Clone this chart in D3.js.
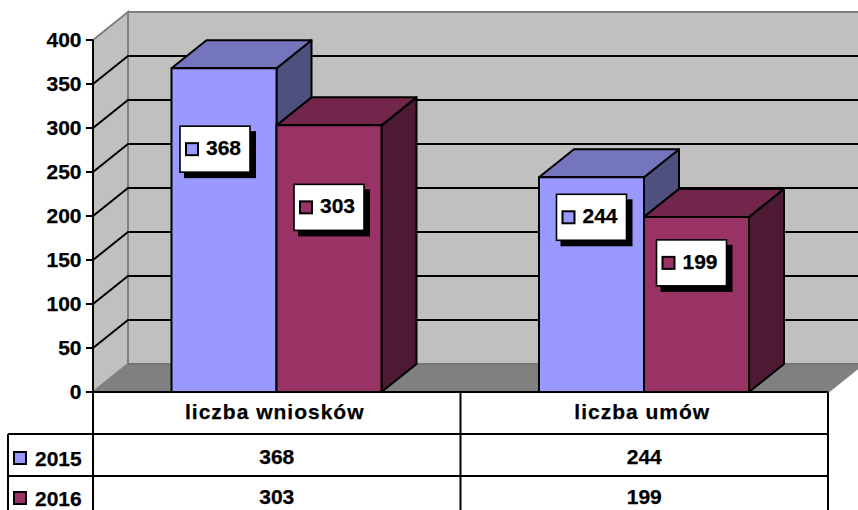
<!DOCTYPE html>
<html><head><meta charset="utf-8">
<script src="https://cdn.jsdelivr.net/npm/d3@7"></script>
<style>html,body{margin:0;padding:0;background:#fff}svg{display:block}text{font-family:"Liberation Sans",Arial,sans-serif;font-weight:700;fill:#000;stroke:#000;stroke-width:.25px}</style>
</head><body><script>
const categories = ["liczba wniosków", "liczba umów"];
const seriesNames = ["2015", "2016"];
const values2015 = [368, 244];
const values2016 = [303, 199];
const yTicks = [0, 50, 100, 150, 200, 250, 300, 350, 400];
const colors = {"2015": ["#9999ff", "#7575bd", "#4f4f80"], "2016": ["#993366", "#73264c", "#4d1a33"]};
const labelOffsets = [[[-9, 81], [0, 82]], [[0, 40], [-5, 46]]];

const W = 858, H = 510, dx = 35, dy = -28;
const x = d3.scaleBand().domain(categories).range([93, 828]);
const xs = d3.scaleBand().domain(seriesNames).range([0, 367]).paddingInner(0).paddingOuter(0.7476);
const y = d3.scaleLinear().domain([0, 400]).range([392, 40]);
const svg = d3.select("body").append("svg").attr("width", W).attr("height", H);
const seriesValues = [values2015, values2016];
const fmt = p => p.map(q => q.join(",")).join(" ");
const SW = 2;

// walls
const xL = x.range()[0], xR = x.range()[1];
svg.append("polygon").attr("points", fmt([[xL + dx, y(400) + dy], [W + 10, y(400) + dy], [W + 10, y(0) + dy], [xL + dx, y(0) + dy]])).attr("fill", "#c0c0c0").attr("stroke", "#808080").attr("stroke-width", 2);
svg.append("polygon").attr("points", fmt([[xL, y(400)], [xL + dx, y(400) + dy], [xL + dx, y(0) + dy], [xL, y(0)]])).attr("fill", "#c0c0c0").attr("stroke", "#808080").attr("stroke-width", 2);
svg.append("polygon").attr("points", fmt([[xL, y(0)], [xL + dx, y(0) + dy], [xR + dx, y(0) + dy], [xR, y(0)]])).attr("fill", "#808080");
svg.append("line").attr("x1", xL + dx).attr("y1", y(0) + dy).attr("x2", W).attr("y2", y(0) + dy).attr("stroke", "#707070").attr("stroke-width", 1.5);
svg.append("line").attr("x1", xR).attr("y1", y(0)).attr("x2", xR + dx).attr("y2", y(0) + dy).attr("stroke", "#808080").attr("stroke-width", 2);

// gridlines
yTicks.filter(t => t > 0 && t < 400).forEach(t => {
  svg.append("polyline").attr("points", fmt([[xL, y(t)], [xL + dx, y(t) + dy], [W + 10, y(t) + dy]])).attr("fill", "none").attr("stroke", "#000").attr("stroke-width", SW);
});

// bars
function poly(pts, fill) {
  svg.append("polygon").attr("points", fmt(pts)).attr("fill", fill).attr("stroke", "#000").attr("stroke-width", SW).attr("stroke-linejoin", "round");
}
categories.forEach((c, ci) => {
  seriesNames.forEach((s, si) => {
    const v = seriesValues[si][ci];
    const l = x(c) + xs(s), r = l + xs.bandwidth(), t = y(v), b = y(0);
    const col = colors[s];
    poly([[r, b], [r + dx, b + dy], [r + dx, t + dy], [r, t]], col[2]);
    poly([[l, t], [l + dx, t + dy], [r + dx, t + dy], [r, t]], col[1]);
    poly([[l, t], [r, t], [r, b], [l, b]], col[0]);
  });
});

// data labels
categories.forEach((c, ci) => {
  seriesNames.forEach((s, si) => {
    const v = seriesValues[si][ci];
    const cx = x(c) + xs(s) + xs.bandwidth() / 2 + labelOffsets[ci][si][0];
    const cy = y(v) + labelOffsets[ci][si][1];
    const g = svg.append("g").attr("transform", `translate(${cx},${cy})`);
    g.append("rect").attr("x", -31).attr("y", -18).attr("width", 72).attr("height", 47).attr("fill", "#000");
    g.append("rect").attr("x", -35).attr("y", -23).attr("width", 70).attr("height", 46).attr("fill", "#fff").attr("stroke", "#000").attr("stroke-width", 1.6);
    g.append("rect").attr("x", -29).attr("y", -6).attr("width", 12).attr("height", 12).attr("fill", colors[s][0]).attr("stroke", "#000").attr("stroke-width", SW);
    g.append("text").attr("x", -9).attr("y", 6).attr("font-size", 21).text(v);
  });
});

// value axis
const axis = svg.append("g");
axis.append("line").attr("x1", xL).attr("x2", xL).attr("y1", y(400)).attr("y2", 510).attr("stroke", "#000").attr("stroke-width", SW);
yTicks.forEach(t => {
  axis.append("line").attr("x1", xL - 7).attr("x2", xL).attr("y1", y(t)).attr("y2", y(t)).attr("stroke", "#000").attr("stroke-width", SW);
  axis.append("text").attr("x", 81.5).attr("y", y(t) + 7).attr("text-anchor", "end").attr("font-size", 21).text(t);
});

// data table
const rowLines = [392, 434, 476];
const rowBaselines = [464, 504];
const rowLegendTop = [452, 492];
const rowLegendBase = [466, 506];
const line = (a, b, c, e) => svg.append("line").attr("x1", a).attr("y1", b).attr("x2", c).attr("y2", e).attr("stroke", "#000").attr("stroke-width", SW);
line(xL, rowLines[0], xR, rowLines[0]);
line(8, rowLines[1], xR, rowLines[1]);
line(8, rowLines[2], xR, rowLines[2]);
line(8, rowLines[1], 8, 510);
line(x(categories[1]), rowLines[0], x(categories[1]), 510);
line(xR, rowLines[0], xR, 510);
categories.forEach(c => {
  svg.append("text").attr("x", x(c) + x.bandwidth() / 2 - 2).attr("y", 419).attr("text-anchor", "middle").attr("font-size", 21).attr("letter-spacing", 1).text(c);
});
seriesNames.forEach((s, si) => {
  svg.append("rect").attr("x", 14).attr("y", rowLegendTop[si]).attr("width", 12).attr("height", 12).attr("fill", colors[s][0]).attr("stroke", "#000").attr("stroke-width", SW);
  svg.append("text").attr("x", 35).attr("y", rowLegendBase[si]).attr("font-size", 21).text(s);
  categories.forEach((c, ci) => {
    svg.append("text").attr("x", x(c) + x.bandwidth() / 2).attr("y", rowBaselines[si]).attr("text-anchor", "middle").attr("font-size", 21).text(seriesValues[si][ci]);
  });
});
</script></body></html>
